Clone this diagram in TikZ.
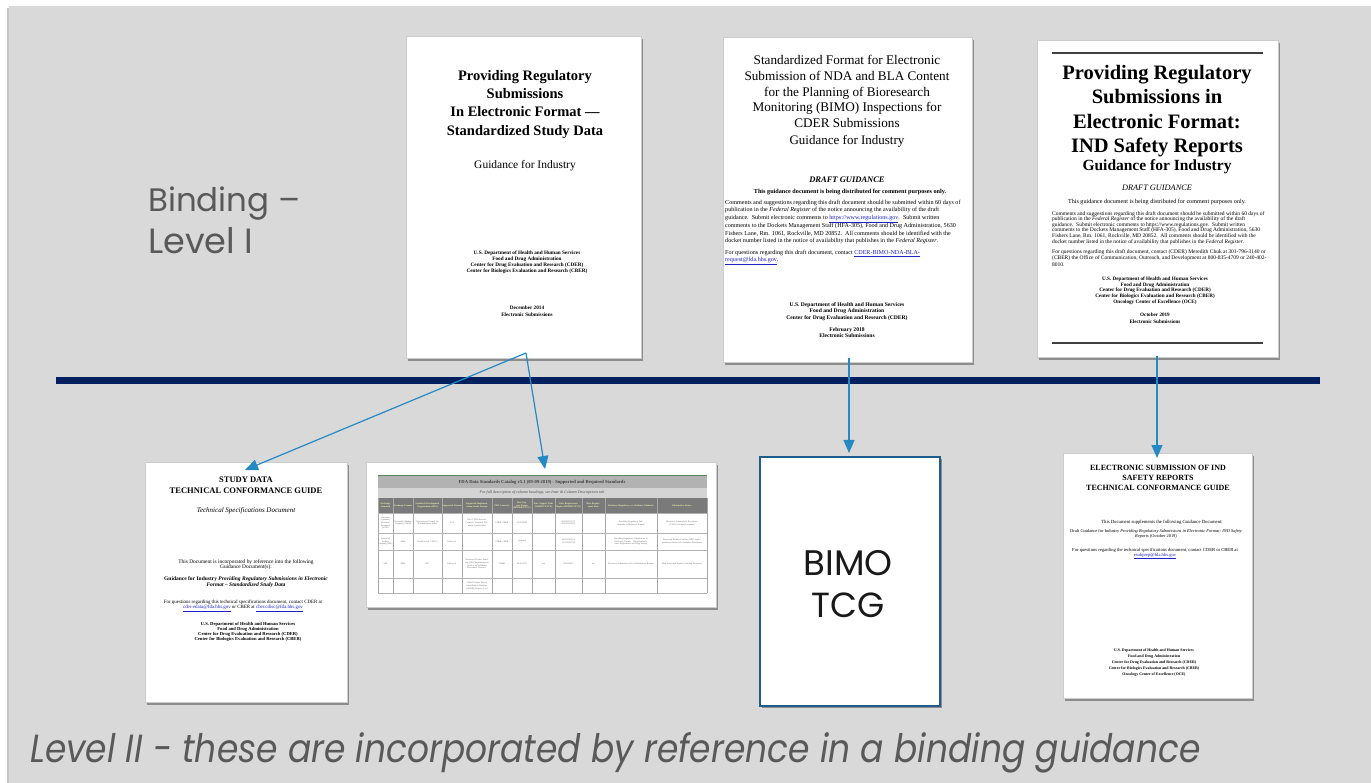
\documentclass[tikz,border=0pt]{standalone}
\usepackage{fontspec}
\usepackage{graphicx}
\usetikzlibrary{arrows.meta,shadows}
\setmainfont{Liberation Serif}
\newfontfamily\gothic{Poppins}
\definecolor{bg}{HTML}{D9D9D9}
\definecolor{navy}{HTML}{002060}
\definecolor{arrowblue}{HTML}{238AC4}
\definecolor{labelgray}{HTML}{595959}
\definecolor{boxblue}{HTML}{1F5E8C}
\definecolor{linkblue}{HTML}{2020C8}
\definecolor{hdryellow}{HTML}{F2F2B0}
\newcommand{\fsz}[2]{\fontsize{#1}{#2}\selectfont}
\newcommand{\lnk}[1]{{\color{linkblue}\underline{#1}}}
\newcommand{\cell}[5]{\node[cellt, text width=#4pt] (#1) at (#2,#3) {#5};}
\newcommand{\hcell}[4]{\node[hcellt, text width=#3pt] (#1) at (#2,505.5) {#4};}
\begin{document}
\begin{tikzpicture}[x=1pt,y=-1pt,
  page/.style={draw=black!20, fill=white, line width=0.4pt, anchor=north west, inner sep=0pt,
    drop shadow={shadow xshift=2pt, shadow yshift=-2.5pt, fill=black, opacity=0.35}},
  txt/.style={inner sep=0pt, align=center, anchor=north},
  ltxt/.style={inner sep=0pt, align=left, anchor=north west},
  cellt/.style={inner sep=0pt, align=center, font=\fsz{2.2}{2.6}, text=black!60},
  hcellt/.style={inner sep=0pt, align=center, font=\fsz{2.3}{2.7}\bfseries, text=hdryellow},
  link/.style={arrowblue, line width=1.2pt, -{Triangle[length=13pt,width=11pt]}},
  label/.style={inner sep=0pt, text=labelgray, font=\gothic}
]
\useasboundingbox (0,0) rectangle (1371,783);
\fill[white] (0,0) rectangle (1371,783);
\fill[black!22] (7,8) rectangle (9,783);
\fill[bg] (9,6) rectangle (1371,783);

% ---------------- Level I documents ----------------
\node[page, minimum width=235pt, minimum height=322pt] (d1) at (406,36) {};
\node[txt, font=\fsz{14.5}{18.3}\bfseries] (d1t) at (525,70) {Providing Regulatory\\Submissions\\In Electronic Format ---\\Standardized Study Data};
\node[txt, font=\fsz{11.5}{13}] (d1g) at (525,160) {Guidance for Industry};
\node[txt, font=\fsz{5.2}{6}\bfseries] (d1d) at (527,251) {U.S. Department of Health and Human Services\\Food and Drug Administration\\Center for Drug Evaluation and Research (CDER)\\Center for Biologics Evaluation and Research (CBER)};
\node[txt, font=\fsz{5.2}{6.8}\bfseries] (d1e) at (527,306) {December 2014\\Electronic Submissions};

\node[page, minimum width=249pt, minimum height=325pt] (d2) at (723,37) {};
\node[txt, font=\fsz{13.2}{15.6}] (d2t) at (847,55.5) {Standardized Format for Electronic\\Submission of NDA and BLA Content\\for the Planning of Bioresearch\\Monitoring (BIMO) Inspections for\\CDER Submissions};
\node[txt, font=\fsz{13}{15}] (d2g) at (847,135.5) {Guidance for Industry};
\node[txt, font=\fsz{8.5}{10}\bfseries\itshape] (d2dr) at (847,177) {DRAFT GUIDANCE};
\node[txt, font=\fsz{6.2}{7}\bfseries] (d2c) at (850,188.5) {This guidance document is being distributed for comment purposes only.};
\node[ltxt, font=\fsz{6.1}{7.3}] (d2p) at (725,200) {Comments and suggestions regarding this draft document should be submitted within 60 days of\\publication in the \textit{Federal Register} of the notice announcing the availability of the draft\\guidance.\ \ Submit electronic comments to \lnk{https://www.regulations.gov}.\ \ Submit written\\comments to the Dockets Management Staff (HFA-305), Food and Drug Administration, 5630\\Fishers Lane, Rm. 1061, Rockville, MD 20852.\ \ All comments should be identified with the\\docket number listed in the notice of availability that publishes in the \textit{Federal Register}.};
\node[ltxt, font=\fsz{6.1}{7.3}] (d2q) at (725,250) {For questions regarding this draft document, contact \lnk{CDER-BIMO-NDA-BLA-}\\\lnk{request@fda.hhs.gov}.};
\node[txt, font=\fsz{5.6}{6.6}\bfseries] (d2d) at (847,302) {U.S. Department of Health and Human Services\\Food and Drug Administration\\Center for Drug Evaluation and Research (CDER)};
\node[txt, font=\fsz{5.6}{6.8}\bfseries] (d2e) at (847,327) {February 2018\\Electronic Submissions};

\node[page, minimum width=241pt, minimum height=317pt] (d3) at (1037,40) {};
\draw[black!75, line width=1.6pt] (1052,53) -- (1263,53);
\draw[black!75, line width=1.6pt] (1052,343) -- (1263,343);
\node[txt, font=\fsz{20.5}{24.3}\bfseries] (d3t) at (1157,65) {Providing Regulatory\\Submissions in\\Electronic Format:\\IND Safety Reports};
\node[txt, font=\fsz{15.5}{17}\bfseries] (d3g) at (1157,159.5) {Guidance for Industry};
\node[txt, font=\fsz{8.3}{10}\itshape] (d3dr) at (1157,185) {DRAFT GUIDANCE};
\node[txt, font=\fsz{6.1}{7}] (d3c) at (1157,199) {This guidance document is being distributed for comment purposes only.};
\node[ltxt, font=\fsz{5.5}{5.6}] (d3p) at (1052,211) {Comments and suggestions regarding this draft document should be submitted within 60 days of\\publication in the \textit{Federal Register} of the notice announcing the availability of the draft\\guidance.\ \ Submit electronic comments to https://www.regulations.gov.\ \ Submit written\\comments to the Dockets Management Staff (HFA-305), Food and Drug Administration, 5630\\Fishers Lane, Rm. 1061, Rockville, MD 20852.\ \ All comments should be identified with the\\docket number listed in the notice of availability that publishes in the \textit{Federal Register}.};
\node[ltxt, font=\fsz{5.5}{6.4}] (d3q) at (1052,249.5) {For questions regarding this draft document, contact (CDER) Meredith Chuk at 301-796-3140 or\\(CBER) the Office of Communication, Outreach, and Development at 800-835-4709 or 240-402-\\8010.};
\node[txt, font=\fsz{5.15}{5.8}\bfseries] (d3d) at (1155,276.5) {U.S. Department of Health and Human Services\\Food and Drug Administration\\Center for Drug Evaluation and Research (CDER)\\Center for Biologics Evaluation and Research (CBER)\\Oncology Center of Excellence (OCE)};
\node[txt, font=\fsz{5.15}{6.8}\bfseries] (d3e) at (1155,312.5) {October 2019\\Electronic Submissions};

% ---------------- separator ----------------
\draw[navy, line width=7pt] (56,381) -- (1320,381);

% ---------------- labels ----------------
\node[label, anchor=base west] (bind1) at (148,212) {\resizebox{152pt}{!}{Binding –}};
\node[label, anchor=base west] (bind2) at (148,254) {\resizebox{105pt}{!}{Level I}};
\node[label, anchor=base west] (lvl2) at (30,762) {\resizebox{1170pt}{30pt}{\itshape Level II - these are incorporated by reference in a binding guidance}};

% ---------------- Level II documents ----------------
\node[page, minimum width=202pt, minimum height=240pt] (d4) at (145,462) {};
\node[txt, font=\fsz{8.5}{11}\bfseries] (d4t) at (246,476.5) {STUDY DATA\\TECHNICAL CONFORMANCE GUIDE};
\node[txt, font=\fsz{7}{8}\itshape] (d4s) at (246,507.5) {Technical Specifications Document};
\node[txt, font=\fsz{5.4}{5.6}] (d4a) at (246,559) {This Document is incorporated by reference into the following\\Guidance Document(s):};
\node[txt, font=\fsz{5.5}{6.2}\bfseries] (d4b) at (246,576) {Guidance for Industry \textit{Providing Regulatory Submissions in Electronic}\\\textit{Format -- Standardized Study Data}};
\node[txt, font=\fsz{4.9}{5.3}] (d4c) at (243,600) {For questions regarding this technical specifications document, contact CDER at\\\lnk{cder-edata@fda.hhs.gov} or CBER at \lnk{cber.cdisc@fda.hhs.gov}};
\node[txt, font=\fsz{4.6}{5}\bfseries] (d4d) at (248,622.5) {U.S. Department of Health and Human Services\\Food and Drug Administration\\Center for Drug Evaluation and Research (CDER)\\Center for Biologics Evaluation and Research (CBER)};

\node[page, minimum width=350pt, minimum height=145pt] (d5) at (366,462) {};
\fill[black!30] (378,476) rectangle (707,488);
\fill[black!17] (378,488) rectangle (707,497.5);
\fill[black!52] (378,498) rectangle (707,513);
\draw[black!45!green!30!gray, line width=1pt] (378,475.5) -- (707,475.5);
\foreach \xx in {378,393,413,442,462,492,512,532,555,582,605,657,707}
  \draw[black!35, line width=0.3pt] (\xx,498) -- (\xx,593);
\foreach \yy in {513,533,550,578,593}
  \draw[black!30, line width=0.3pt] (378,\yy) -- (707,\yy);
\node[inner sep=0pt, font=\fsz{4.6}{5}\bfseries, text=black!75] (d5t) at (542,482) {FDA Data Standards Catalog v5.1 (09-09-2019) - Supported and Required Standards};
\node[inner sep=0pt, font=\fsz{4}{5}\itshape, text=black!70] (d5s) at (542,492.8) {For full description of column headings, see Instr \& Column Descriptions tab};
\hcell{h1}{385.5}{14}{Exchange Standard}
\hcell{h2}{403}{19}{Exchange Format}
\hcell{h3}{427.5}{28}{Standards Development Organization (SDO)}
\hcell{h4}{452}{19}{Supported Version}
\hcell{h5}{477}{29}{Supported Implementation Guide Version}
\hcell{h6}{502}{19}{FDA Center(s)}
\hcell{h7}{522}{19}{Date Support Begins (MM/DD/YYYY)}
\hcell{h8}{543.5}{22}{Date Support Ends (MM/DD/YYYY)}
\hcell{h9}{568.5}{26}{Date Requirement Begins (MM/DD/YYYY)}
\hcell{h10}{593.5}{22}{Date Requirement Ends}
\hcell{h11}{631}{50}{Statutory, Regulatory, or Guidance Authority}
\hcell{h12}{682}{49}{Informative Source}
\cell{r1a}{385.5}{523}{14}{electronic Common Technical Document (eCTD)}
\cell{r1b}{403}{523}{19}{Extensible Markup Language (XML)}
\cell{r1c}{427.5}{523}{28}{International Council for Harmonisation (ICH)}
\cell{r1d}{452}{523}{19}{3.2.2}
\cell{r1e}{477}{523}{29}{M2 eCTD Electronic Common Technical Document Specification}
\cell{r1f}{502}{523}{19}{CDER, CBER}
\cell{r1g}{522}{523}{19}{05/05/2008}
\cell{r1i}{568.5}{523}{26}{05/05/2017 [1]\\05/05/2018 [2]}
\cell{r1k}{631}{523}{46}{Providing Regulatory Submissions in Electronic Format}
\cell{r1l}{682}{523}{46}{Electronic Submissions Resources: eCTD Technical Documents}
\cell{r2a}{385.5}{541.5}{14}{Structured Product Labeling (SPL)}
\cell{r2b}{403}{541.5}{19}{XML}
\cell{r2c}{427.5}{541.5}{28}{Health Level 7 (HL7)}
\cell{r2d}{452}{541.5}{19}{Release 4}
\cell{r2f}{502}{541.5}{19}{CDER, CBER}
\cell{r2g}{522}{541.5}{19}{Ongoing}
\cell{r2i}{568.5}{541.5}{26}{06/07/2008 [3]\\12/17/2020 [4]}
\cell{r2k}{631}{541.5}{46}{Providing Regulatory Submissions in Electronic Format -- Drug Establishment Registration and Drug Listing}
\cell{r2l}{682}{541.5}{46}{Structured Product Labeling (SPL) Implementation Guide with Validation Procedures}
\cell{r3a}{385.5}{564}{14}{SPL}
\cell{r3b}{403}{564}{19}{XML}
\cell{r3c}{427.5}{564}{28}{HL7}
\cell{r3d}{452}{564}{19}{Release 4}
\cell{r3e}{477}{564}{29}{Structured Product Labeling (SPL) Implementation Guide with Validation Procedures Version 1}
\cell{r3f}{502}{564}{19}{CDRH}
\cell{r3g}{522}{564}{19}{06/11/2015}
\cell{r3h}{543.5}{564}{22}{n/a}
\cell{r3i}{568.5}{564}{26}{09/18/2015}
\cell{r3j}{593.5}{564}{22}{n/a}
\cell{r3k}{631}{564}{46}{Electronic Submission of Lot Distribution Reports}
\cell{r3l}{682}{564}{46}{FDA Structured Product Labeling Resources}
\cell{r4e}{477}{586}{29}{Global Unique Device Identification Database (GUDID) Release 1.0.0}

\node[page, draw=boxblue, line width=1.6pt, minimum width=180pt, minimum height=249pt] (bimo) at (759,456) {};
\node[inner sep=0pt, font=\gothic, text=black!90, anchor=base] (bimo1) at (848,575) {\resizebox{89pt}{!}{BIMO}};
\node[inner sep=0pt, font=\gothic, text=black!90, anchor=base] (bimo2) at (848,617) {\resizebox{73pt}{!}{TCG}};

\node[page, minimum width=189pt, minimum height=245pt] (d6) at (1063,453) {};
\node[txt, font=\fsz{8}{10}\bfseries] (d6t) at (1158,465) {ELECTRONIC SUBMISSION OF IND\\SAFETY REPORTS\\TECHNICAL CONFORMANCE GUIDE};
\node[txt, font=\fsz{4.7}{5}] (d6a) at (1162,519.5) {This Document supplements the following Guidance Document:};
\node[txt, font=\fsz{4.4}{5.2}] (d6b) at (1156,529) {Draft Guidance for Industry \textit{Providing Regulatory Submissions in Electronic Format: IND Safety}\\\textit{Reports} (October 2019)};
\node[txt, font=\fsz{4.6}{4.8}] (d6c) at (1155,548) {For questions regarding the technical specifications document, contact CDER or CBER at\\\lnk{esubprep@fda.hhs.gov}};
\node[txt, font=\fsz{3.9}{6}\bfseries] (d6d) at (1154,648.5) {U.S. Department of Health and Human Services\\Food and Drug Administration\\Center for Drug Evaluation and Research (CDER)\\Center for Biologics Evaluation and Research (CBER)\\Oncology Center of Excellence (OCE)};

% ---------------- connectors ----------------
\coordinate (s1) at (526,353);
\coordinate (e4) at (245,470);
\coordinate (e5) at (545,469);
\coordinate (s2) at (849,358);
\coordinate (e6) at (849,453);
\coordinate (s3) at (1157,356);
\coordinate (e7) at (1157,458);
\draw[link] (s1) -- (e4);
\draw[link] (s1) -- (e5);
\draw[link] (s2) -- (e6);
\draw[link] (s3) -- (e7);
\end{tikzpicture}
\end{document}
